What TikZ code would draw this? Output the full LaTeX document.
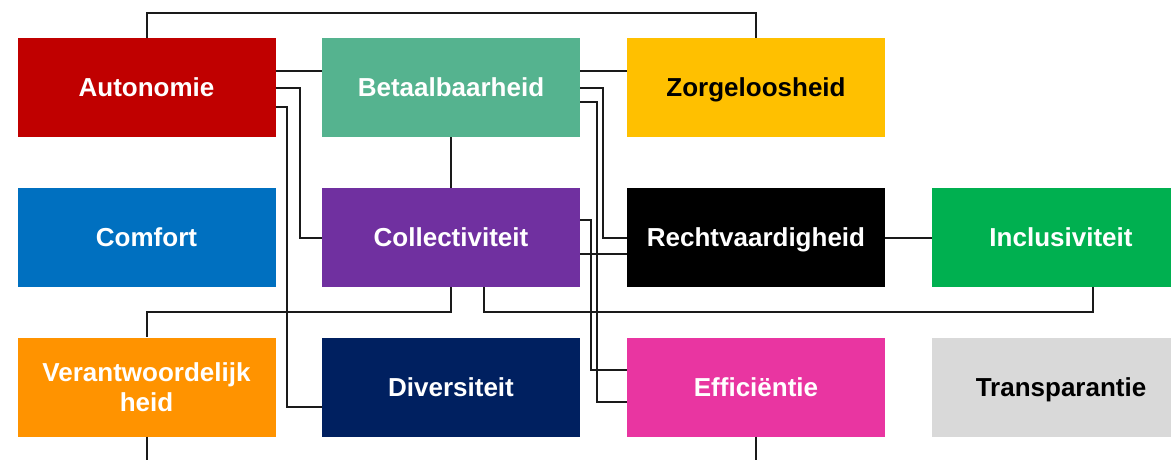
\documentclass[tikz,border=0pt]{standalone}
\usepackage{fontspec}
\setmainfont{Liberation Sans}
\definecolor{cRed}{HTML}{C00000}
\definecolor{cTeal}{HTML}{55B38F}
\definecolor{cYellow}{HTML}{FFC000}
\definecolor{cBlue}{HTML}{0070C0}
\definecolor{cPurple}{HTML}{7030A0}
\definecolor{cBlack}{HTML}{000000}
\definecolor{cGreen}{HTML}{00B050}
\definecolor{cOrange}{HTML}{FF9300}
\definecolor{cNavy}{HTML}{002060}
\definecolor{cPink}{HTML}{E935A1}
\definecolor{cGrey}{HTML}{D9D9D9}
\definecolor{cLine}{HTML}{1A1A1A}
\begin{document}
\begin{tikzpicture}[x=1pt,y=-1pt,
  valbox/.style={rectangle,minimum width=258pt,minimum height=99pt,inner sep=0pt,
    text=white,font=\fontsize{26}{30}\selectfont\bfseries,align=center},
  oneline/.style={valbox,text height=18.6pt,text depth=0pt},
  conn/.style={draw=cLine,line width=2pt}]
\clip (0,0) rectangle (1171,459);
\fill[white] (0,0) rectangle (1171,459);
\coordinate (bot) at (0,470);
% row 1
\node[oneline,fill=cRed] (auto) at (146.5,87.5) {Autonomie};
\node[oneline,fill=cTeal] (bet) at (451,87.5) {Betaalbaarheid};
\node[oneline,fill=cYellow,text=black] (zorg) at (756,87.5) {Zorgeloosheid};
% row 2
\node[oneline,fill=cBlue] (comf) at (146.5,237.5) {Comfort};
\node[oneline,fill=cPurple] (coll) at (451,237.5) {Collectiviteit};
\node[oneline,fill=cBlack] (recht) at (756,237.5) {Rechtvaardigheid};
\node[oneline,fill=cGreen] (incl) at (1061,237.5) {Inclusiviteit};
% row 3
\node[valbox,fill=cOrange] (ver) at (146.5,387) {Verantwoordelijk\\heid};
\node[oneline,fill=cNavy] (div) at (451,387) {Diversiteit};
\node[oneline,fill=cPink] (eff) at (756,387) {Efficiëntie};
\node[oneline,fill=cGrey,text=black] (trans) at (1061,387) {Transparantie};
% connectors
\draw[conn] (auto.north) -- ++(0,-25) -| (zorg.north);
\draw[conn] ([yshift=16.5pt]auto.east) -- ([yshift=16.5pt]bet.west);
\draw[conn] (auto.east) -- ++(24,0) |- (coll.west);
\draw[conn] ([yshift=-19.5pt]auto.east) -- ++(11,0) |- ([yshift=-20pt]div.west);
\draw[conn] ([yshift=16.5pt]bet.east) -- ([yshift=16.5pt]zorg.west);
\draw[conn] (bet.east) -- ++(23,0) |- (recht.west);
\draw[conn] ([yshift=-14.5pt]bet.east) -- ++(16.5,0) |- ([yshift=-15pt]eff.west);
\draw[conn] (bet.south) -- (coll.north);
\draw[conn] ([yshift=17.5pt]coll.east) -- ++(11,0) |- ([yshift=17pt]eff.west);
\draw[conn] ([yshift=-16pt]coll.east) -- ([yshift=-16pt]recht.west);
\draw[conn] (coll.south) -- ++(0,25) -| (ver.north);
\draw[conn] ([xshift=33pt]coll.south) -- ++(0,25) -| ([xshift=32pt]incl.south);
\draw[conn] (recht.east) -- (incl.west);
\draw[conn] (ver.south) -- (ver.south |- bot);
\draw[conn] (eff.south) -- (eff.south |- bot);
\end{tikzpicture}
\end{document}
